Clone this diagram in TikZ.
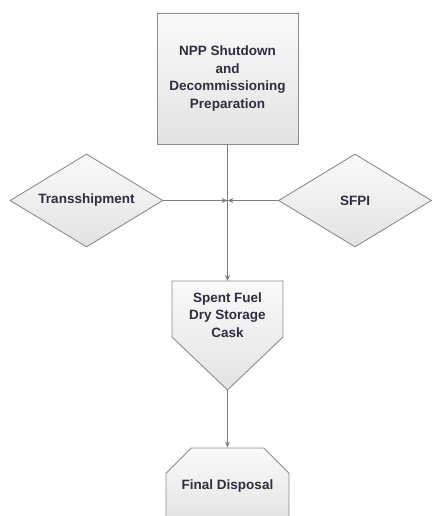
\documentclass[tikz,border=0pt]{standalone}
\usepackage{fontspec}
\setmainfont{Liberation Sans}
\usetikzlibrary{arrows.meta,shapes.geometric,shapes.misc}
\definecolor{edgegray}{RGB}{140,140,140}
\definecolor{linegray}{RGB}{125,125,125}
\definecolor{labelink}{RGB}{46,46,62}
\begin{document}
\begin{tikzpicture}[x=1pt,y=-1pt,
  every node/.style={font=\fontsize{13.5}{17.5}\selectfont\bfseries,text=labelink,align=center},
  block/.style={draw=edgegray,line width=0.9pt,top color=white!98!black,bottom color=black!11},
  decision/.style={block,diamond,aspect=1.65,inner sep=0pt,minimum width=153pt,minimum height=93pt},
  flow/.style={draw=linegray,line width=1pt,-{Stealth[length=6pt,width=5pt]}}]
\useasboundingbox (0,0) rectangle (434,516);
\clip (0,0) rectangle (434,516);

\node[block,minimum width=141pt,minimum height=131pt] (npp) at (227.5,78.5)
      {NPP Shutdown\\and\\Decommissioning\\Preparation};
\node[decision] (trans) at (86.5,200.5) {Transshipment};
\node[decision] (sfpi) at (355,200.5) {SFPI};
\coordinate (join) at (227.5,200.5);

\draw[block] (172,281) -- (283,281) -- (283,337) -- (227.5,390) -- (172,337) -- cycle;
\coordinate (caskTop) at (227.5,281);
\coordinate (caskTip) at (227.5,390);
\node (cask) at (227.5,315) {Spent Fuel\\Dry Storage\\Cask};

\node[block,chamfered rectangle,chamfered rectangle corners={north west,north east},
      chamfered rectangle xsep=19pt,chamfered rectangle ysep=19pt,inner sep=0pt,
      minimum width=123pt,minimum height=76pt] (final) at (227.5,486) {Final Disposal};

\draw[flow] (npp.south) -- (caskTop);
\draw[flow] (trans) -- (join);
\draw[flow] (sfpi) -- (join);
\draw[flow] (caskTip) -- (final.north);
\end{tikzpicture}
\end{document}
